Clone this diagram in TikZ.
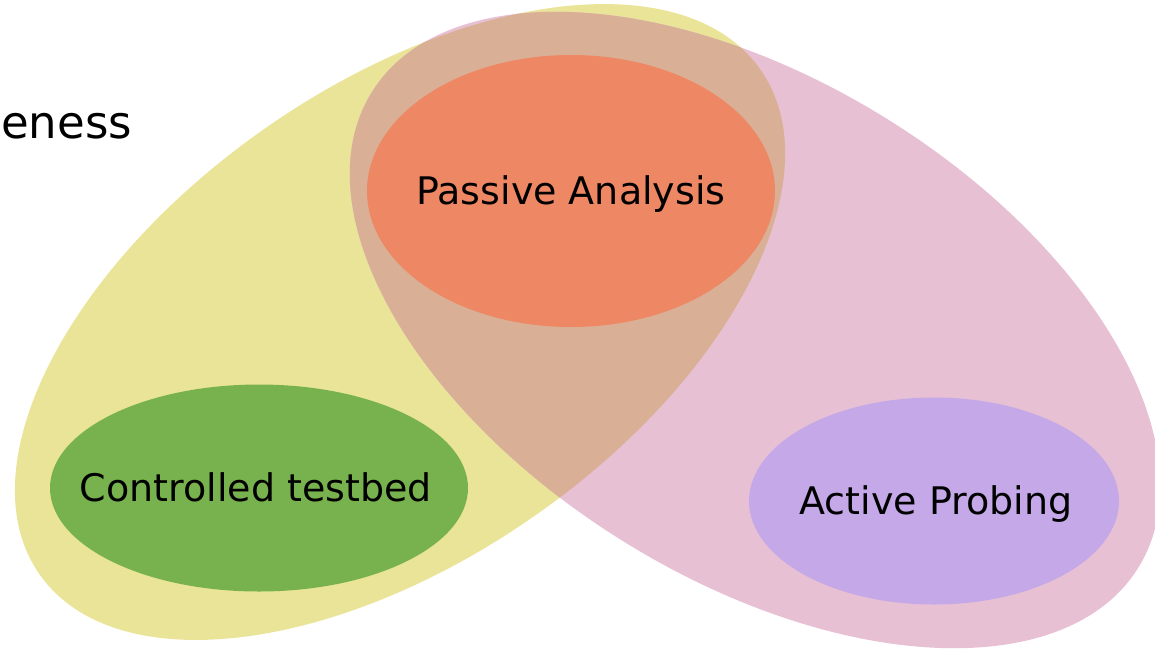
\documentclass[tikz,border=0pt]{standalone}
\usepackage{fontspec}
\setmainfont{DejaVu Sans}
\usetikzlibrary{shapes.geometric}
\definecolor{yellowc}{HTML}{EAE498}
\definecolor{pinkc}{HTML}{E7C0D4}
\definecolor{overlapc}{HTML}{D9B096}
\definecolor{orangec}{HTML}{EE8763}
\definecolor{greenc}{HTML}{78B24E}
\definecolor{purplec}{HTML}{C4A8E8}
\tikzset{
  inner/.style={ellipse, inner sep=0pt, draw=none},
  lbl/.style={inner sep=0pt, text height=27.7pt, text depth=0pt, font=\fontsize{38}{44}\selectfont},
}
\begin{document}
\begin{tikzpicture}[x=1pt,y=-1pt]
\useasboundingbox (0,0) rectangle (1155,648);
\clip (0,0) rectangle (1155,648);
\fill[yellowc, rotate around={35:(400,322)}] (400,322) ellipse [x radius=440, y radius=236];
\fill[pinkc, rotate around={-31.8:(755,330)}] (755,330) ellipse [x radius=451, y radius=249];
\begin{scope}
  \clip[rotate around={35:(400,322)}] (400,322) ellipse [x radius=440, y radius=236];
  \fill[overlapc, rotate around={-31.8:(755,330)}] (755,330) ellipse [x radius=451, y radius=249];
\end{scope}
\node[inner, fill=orangec, minimum width=408pt, minimum height=272pt] (pa) at (571,191) {};
\node[inner, fill=greenc, minimum width=418pt, minimum height=207pt] (ct) at (259,488) {};
\node[inner, fill=purplec, minimum width=370pt, minimum height=207pt] (ap) at (934,501) {};
\node[lbl] (patext) at (pa.center) {Passive Analysis};
\node[lbl] (cttext) at ([xshift=-3pt]ct.center) {Controlled testbed};
\node[lbl] (aptext) at ([xshift=2pt]ap.center) {Active Probing};
\node[inner sep=0pt, anchor=base west, font=\fontsize{45}{52}\selectfont] (eness) at (1,138) {eness};
\end{tikzpicture}
\end{document}
